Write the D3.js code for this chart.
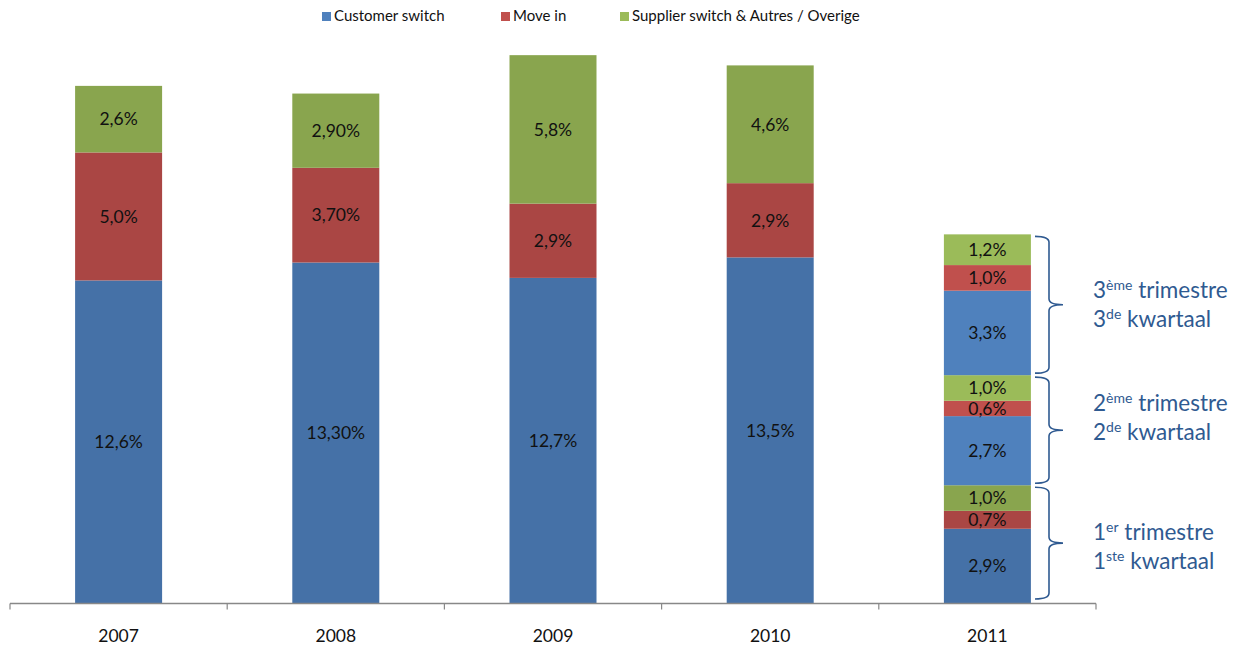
<!DOCTYPE html>
<html>
<head>
<meta charset="utf-8">
<script src="https://cdn.jsdelivr.net/npm/d3@7"></script>
<style>
html,body{margin:0;padding:0;background:#fff;}
svg{display:block;}
</style>
</head>
<body>
<svg id="chart" width="1244" height="648"></svg>
<script>
// ---------- data ----------
const years = ["2007", "2008", "2009", "2010", "2011"];
const seriesNames = ["Customer switch", "Move in", "Supplier switch & Autres / Overige"];
const customerSwitch = [12.6, 13.3, 12.7, 13.5];
const moveIn = [5.0, 3.7, 2.9, 2.9];
const supplierSwitch = [2.6, 2.9, 5.8, 4.6];
const customerLabels = ["12,6%", "13,30%", "12,7%", "13,5%"];
const moveInLabels = ["5,0%", "3,70%", "2,9%", "2,9%"];
const supplierLabels = ["2,6%", "2,90%", "5,8%", "4,6%"];
// 2011 by quarter
const quarters2011 = ["Q1", "Q2", "Q3"];
const q2011Customer = [2.9, 2.7, 3.3];
const q2011MoveIn = [0.7, 0.6, 1.0];
const q2011Supplier = [1.0, 1.0, 1.2];
const q2011CustomerLabels = ["2,9%", "2,7%", "3,3%"];
const q2011MoveInLabels = ["0,7%", "0,6%", "1,0%"];
const q2011SupplierLabels = ["1,0%", "1,0%", "1,2%"];
const quarterFr = [["1", "er", " trimestre"], ["2", "ème", " trimestre"], ["3", "ème", " trimestre"]];
const quarterNl = [["1", "ste", " kwartaal"], ["2", "de", " kwartaal"], ["3", "de", " kwartaal"]];

// ---------- styles / layout ----------
const darkColors = ["#4571a7", "#aa4644", "#89a54e"];
const lightColors = ["#4f81bd", "#c0504d", "#9bbb59"];
const font = "Lato, 'Liberation Sans', sans-serif";
const annColor = "#2f5a91";
const annBaseline = [540, 411, 298];   // first-line baseline of each quarter note
const legendX = [322, 501, 620];

const svg = d3.select("#chart");

const x = d3.scaleBand().domain(years).range([10, 1096]).paddingInner(0).paddingOuter(0);
const barW = 87;
const pxPer = 25.6;
const y = d3.scaleLinear().domain([0, 22]).range([603, 603 - 22 * pxPer]);

// build segments
const segs = [];
years.slice(0, 4).forEach((yr, i) => {
  const vals = [customerSwitch[i], moveIn[i], supplierSwitch[i]];
  const labs = [customerLabels[i], moveInLabels[i], supplierLabels[i]];
  let base = 0;
  vals.forEach((v, s) => {
    segs.push({year: yr, y0: base, y1: base + v, color: darkColors[s], label: labs[s]});
    base += v;
  });
});
let base2011 = 0;
const quarterBounds = [];
quarters2011.forEach((q, qi) => {
  const vals = [q2011Customer[qi], q2011MoveIn[qi], q2011Supplier[qi]];
  const labs = [q2011CustomerLabels[qi], q2011MoveInLabels[qi], q2011SupplierLabels[qi]];
  const start = base2011;
  vals.forEach((v, s) => {
    segs.push({year: "2011", y0: base2011, y1: base2011 + v,
      color: qi === 0 ? darkColors[s] : lightColors[s], label: labs[s]});
    base2011 += v;
  });
  quarterBounds.push([start, base2011]);
});

const barX = yr => x(yr) + (x.bandwidth() - barW) / 2;

svg.append("g").selectAll("rect").data(segs).join("rect")
  .attr("x", d => barX(d.year))
  .attr("width", barW)
  .attr("y", d => y(d.y1))
  .attr("height", d => y(d.y0) - y(d.y1))
  .attr("fill", d => d.color);

svg.append("g").selectAll("text").data(segs).join("text")
  .attr("x", d => barX(d.year) + barW / 2)
  .attr("y", d => (y(d.y0) + y(d.y1)) / 2)
  .attr("dy", "0.36em")
  .attr("text-anchor", "middle")
  .attr("font-family", font)
  .attr("font-size", 17.5)
  .attr("fill", "#111")
  .text(d => d.label);

// axis
const axis = d3.axisBottom(x).tickSize(0).tickFormat(d => d);
const gx = svg.append("g").attr("transform", "translate(0,603.5)").call(axis);
gx.select(".domain").attr("stroke", "#888").attr("stroke-width", 1.5).attr("d", "M10,0H1096");
gx.selectAll(".tick text").attr("font-family", font).attr("font-size", 17.5).attr("fill", "#111")
  .attr("y", 38.5).attr("dy", null);
const bounds = years.map(d => x(d)).concat([x(years[years.length - 1]) + x.bandwidth()]);
gx.selectAll(".bt").data(bounds).join("line").attr("class", "bt")
  .attr("x1", d => d).attr("x2", d => d).attr("y1", 0).attr("y2", 6)
  .attr("stroke", "#888").attr("stroke-width", 1.2);

// braces
const bx0 = 1035, bx1 = 1049, bx2 = 1063;
quarterBounds.forEach((b, qi) => {
  const yb = y(b[0]) - (qi === 0 ? 4 : 2), yt = y(b[1]) + 2;
  const ym = (yb + yt) / 2, r = 6;
  const p = `M${bx0},${yt} Q${bx1},${yt} ${bx1},${yt + r} L${bx1},${ym - r} Q${bx1},${ym} ${bx2},${ym} Q${bx1},${ym} ${bx1},${ym + r} L${bx1},${yb - r} Q${bx1},${yb} ${bx0},${yb}`;
  svg.append("path").attr("d", p).attr("fill", "none").attr("stroke", annColor).attr("stroke-width", 1.6);
  const lines = [quarterFr[qi], quarterNl[qi]];
  lines.forEach((ln, li) => {
    const t = svg.append("text")
      .attr("x", 1093)
      .attr("y", annBaseline[qi] + li * 28.5)
      .attr("font-family", font)
      .attr("font-size", 22.5)
      .attr("fill", annColor);
    t.append("tspan").text(ln[0]);
    t.append("tspan").attr("font-size", 14).attr("dy", -8).text(ln[1]);
    t.append("tspan").attr("dy", 8).text(ln[2]);
  });
});

// legend
const lg = svg.append("g");
seriesNames.forEach((n, i) => {
  lg.append("rect").attr("x", legendX[i]).attr("y", 12).attr("width", 9).attr("height", 9).attr("fill", lightColors[i]);
  lg.append("text").attr("x", legendX[i] + 12).attr("y", 21)
    .attr("font-family", font).attr("font-size", 15).attr("fill", "#111").text(n);
});
</script>
</body>
</html>
